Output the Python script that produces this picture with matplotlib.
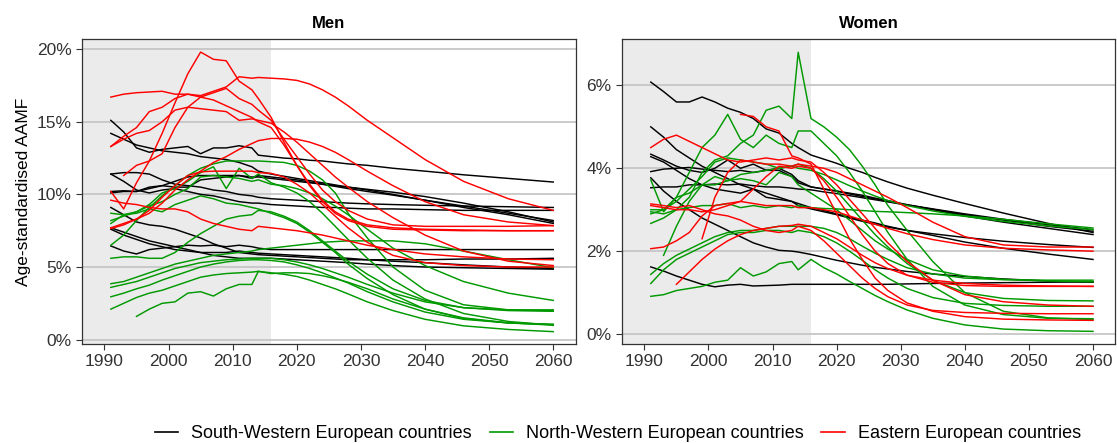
import matplotlib
matplotlib.use("Agg")
import matplotlib.pyplot as plt
import numpy as np
from matplotlib.lines import Line2D

plt.rcParams["font.family"] = ["Liberation Sans", "DejaVu Sans"]

# observed years (grey band) followed by projection years
OBS_YEARS = [1991, 1993, 1995, 1997, 1999, 2001, 2003, 2005, 2007, 2009, 2011, 2013, 2014, 2016]
PROJ_YEARS = [2018, 2020, 2022, 2024, 2026, 2028, 2031, 2035, 2040, 2046, 2053, 2060]
YEARS = OBS_YEARS + PROJ_YEARS
LAST_OBSERVED = 2016

GROUPS = ["South-Western European countries", "North-Western European countries",
          "Eastern European countries"]
COLORS = ["#000000", "#009900", "#FF0000"]

# ---- Men, AAMF in % ----
MEN_SW = [
    [15.1, 14.3, 13.2, 12.9, 13.1, 13.2, 13.3, 12.8, 13.2, 13.2, 13.35, 13.2, 12.7, 12.6]
    + [12.5, 12.45, 12.35, 12.3, 12.2, 12.1, 12.0, 11.8, 11.6, 11.35, 11.1, 10.85],
    [14.2, 13.8, 13.4, 13.2, 13.0, 12.9, 12.8, 12.6, 12.5, 12.4, 12.2, 11.9, 11.6, 11.4]
    + [11.25, 11.1, 10.95, 10.8, 10.65, 10.5, 10.3, 10.0, 9.6, 9.2, 8.7, 8.2],
    [10.1, 10.2, 10.2, 10.4, 10.6, 10.9, 11.2, 11.3, 11.3, 11.3, 11.3, 11.2, 11.2, 11.1]
    + [11.0, 10.9, 10.8, 10.7, 10.6, 10.5, 10.35, 10.15, 9.85, 9.4, 8.8, 8.1],
    [11.4, 11.5, 11.5, 11.4, 11.0, 10.7, 10.6, 10.5, 10.3, 10.2, 10.0, 9.9, 9.8, 9.7]
    + [9.65, 9.6, 9.55, 9.5, 9.45, 9.4, 9.35, 9.3, 9.25, 9.2, 9.15, 9.1],
    [11.4, 10.9, 10.3, 10.1, 10.3, 10.4, 10.2, 10.0, 9.9, 9.7, 9.5, 9.4, 9.4, 9.3]
    + [9.25, 9.2, 9.15, 9.1, 9.1, 9.05, 9.0, 9.0, 8.95, 8.9, 8.9, 8.9],
    [10.2, 10.25, 10.2, 10.5, 10.6, 10.5, 10.5, 11.0, 11.1, 11.2, 11.3, 11.1, 11.3, 11.2]
    + [11.1, 11.0, 10.85, 10.7, 10.55, 10.4, 10.2, 9.95, 9.6, 9.1, 8.6, 8.0],
    [9.1, 8.6, 8.1, 7.9, 7.8, 7.6, 7.3, 7.0, 6.6, 6.3, 6.0, 5.9, 5.85, 5.8]
    + [5.75, 5.7, 5.65, 5.6, 5.55, 5.5, 5.5, 5.5, 5.5, 5.55, 5.55, 5.6],
    [7.6, 7.2, 6.9, 6.6, 6.4, 6.2, 6.1, 6.0, 6.0, 6.0, 6.1, 6.0, 5.95, 5.9]
    + [5.85, 5.8, 5.75, 5.7, 5.65, 5.6, 5.5, 5.4, 5.3, 5.15, 5.0, 4.9],
    [6.45, 6.1, 5.9, 6.2, 6.3, 6.4, 6.5, 6.45, 6.5, 6.4, 6.5, 6.4, 6.3, 6.2]
    + [6.2, 6.2, 6.2, 6.2, 6.2, 6.2, 6.2, 6.2, 6.2, 6.2, 6.2, 6.2],
    [7.7, 7.4, 7.1, 6.8, 6.6, 6.4, 6.2, 6.0, 5.8, 5.7, 5.6, 5.6, 5.6, 5.6]
    + [5.55, 5.5, 5.45, 5.4, 5.35, 5.3, 5.2, 5.1, 5.0, 4.95, 4.9, 4.85],
]
MEN_NW = [
    [6.5, 7.2, 8.2, 9.1, 9.9, 10.6, 11.3, 11.8, 12.1, 12.3, 12.3, 12.3, 12.3, 12.25]
    + [12.2, 12.0, 11.6, 11.0, 10.1, 8.7, 7.0, 5.0, 3.4, 2.4, 2.05, 2.0],
    [8.7, 8.6, 8.8, 9.3, 10.1, 10.4, 10.9, 11.5, 11.9, 10.4, 11.8, 11.1, 11.4, 10.8]
    + [10.5, 10.1, 9.5, 8.7, 7.8, 6.9, 5.6, 4.1, 2.8, 1.8, 1.25, 1.0],
    [8.2, 8.5, 8.8, 9.2, 9.5, 10.0, 10.4, 11.2, 11.3, 11.2, 11.1, 10.9, 11.0, 10.7]
    + [10.6, 10.4, 10.1, 9.7, 9.2, 8.6, 7.6, 6.3, 5.1, 4.0, 3.2, 2.7],
    [8.0, 8.6, 8.7, 9.0, 8.8, 9.3, 9.6, 9.9, 9.7, 9.4, 9.3, 9.1, 9.0, 8.7]
    + [8.4, 8.0, 7.4, 6.7, 6.0, 5.2, 4.2, 3.1, 2.1, 1.45, 1.15, 1.05],
    [5.6, 5.7, 5.7, 5.6, 5.6, 6.0, 6.7, 7.3, 7.8, 8.3, 8.5, 8.6, 8.9, 8.8]
    + [8.5, 8.1, 7.5, 6.8, 6.1, 5.4, 4.5, 3.5, 2.7, 2.2, 2.05, 2.05],
    [3.85, 4.0, 4.3, 4.6, 4.9, 5.2, 5.4, 5.6, 5.8, 5.9, 6.0, 6.1, 6.2, 6.3]
    + [6.4, 6.5, 6.6, 6.7, 6.75, 6.8, 6.8, 6.8, 6.6, 6.1, 5.5, 4.95],
    [3.6, 3.8, 4.0, 4.3, 4.6, 4.9, 5.1, 5.3, 5.4, 5.5, 5.55, 5.6, 5.6, 5.6]
    + [5.5, 5.35, 5.15, 4.9, 4.6, 4.3, 3.8, 3.2, 2.6, 2.2, 2.0, 1.95],
    [2.95, 3.2, 3.5, 3.75, 4.1, 4.4, 4.7, 5.0, 5.2, 5.35, 5.45, 5.5, 5.5, 5.45]
    + [5.35, 5.15, 4.9, 4.6, 4.25, 3.9, 3.3, 2.6, 1.9, 1.4, 1.15, 1.05],
    [2.1, 2.5, 2.9, 3.2, 3.4, 3.7, 4.0, 4.3, 4.45, 4.55, 4.6, 4.65, 4.7, 4.6]
    + [4.5, 4.35, 4.1, 3.8, 3.5, 3.15, 2.6, 2.0, 1.4, 0.95, 0.7, 0.55],
    [None, None, 1.6, 2.1, 2.5, 2.6, 3.2, 3.3, 3.0, 3.5, 3.8, 3.8, 4.7, 4.55]
    + [4.6, 4.6, 4.55, 4.4, 4.2, 3.95, 3.5, 2.8, 2.1, 1.5, 1.15, 1.0],
]
MEN_EAST = [
    [16.7, 16.9, 17.0, 17.05, 17.1, 16.9, 16.9, 16.7, 16.5, 16.1, 15.7, 15.3, 15.0, 14.6]
    + [13.4, 12.0, 10.7, 9.6, 8.8, 8.3, 7.9, 7.7, 7.6, 7.55, 7.5, 7.5],
    [13.3, 14.0, 14.6, 15.7, 16.0, 16.6, 16.9, 16.8, 17.1, 17.4, 18.1, 18.0, 18.05, 18.0]
    + [17.95, 17.85, 17.6, 17.2, 16.7, 16.1, 15.1, 13.9, 12.4, 10.9, 9.7, 8.9],
    [10.2, 9.0, 10.8, 12.3, 14.2, 16.3, 18.3, 19.8, 19.3, 19.2, 17.8, 17.2, 16.6, 15.3]
    + [13.6, 12.0, 10.6, 9.5, 8.7, 8.2, 7.8, 7.6, 7.55, 7.5, 7.5, 7.5],
    [None, 11.3, 12.0, 12.3, 12.8, 14.6, 16.0, 16.7, 17.0, 17.3, 16.6, 16.2, 15.8, 15.1]
    + [13.8, 12.6, 11.4, 10.3, 9.5, 8.9, 8.3, 7.9, 7.8, 7.8, 7.8, 7.85],
    [13.3, 13.8, 14.2, 14.4, 15.0, 15.8, 16.0, 15.9, 15.8, 15.7, 15.1, 15.2, 15.1, 14.9]
    + [14.3, 13.6, 12.8, 12.0, 11.2, 10.5, 9.5, 8.4, 7.2, 6.1, 5.4, 5.1],
    [9.6, 9.4, 9.3, 9.1, 9.0, 9.0, 8.8, 8.3, 8.0, 7.8, 7.6, 7.5, 7.8, 7.7]
    + [7.6, 7.5, 7.35, 7.2, 7.0, 6.8, 6.5, 6.2, 5.9, 5.7, 5.55, 5.5],
    [7.65, 7.9, 8.3, 8.7, 9.4, 10.3, 11.0, 11.6, 12.2, 12.6, 13.1, 13.5, 13.7, 13.85]
    + [13.85, 13.8, 13.6, 13.3, 12.9, 12.4, 11.6, 10.6, 9.5, 8.6, 8.1, 7.85],
    [7.7, 8.0, 8.3, 8.9, 9.8, 10.6, 11.3, 11.55, 11.6, 11.6, 11.6, 11.6, 11.5, 11.45]
    + [11.2, 10.7, 10.1, 9.3, 8.5, 7.7, 6.7, 5.8, 5.3, 5.1, 5.0, 5.0],
]

# ---- Women, AAMF in % ----
WOMEN_SW = [
    [6.08, 5.85, 5.6, 5.6, 5.72, 5.6, 5.45, 5.35, 5.2, 4.95, 4.85, 4.6, 4.5, 4.32]
    + [4.22, 4.12, 4.0, 3.9, 3.78, 3.67, 3.52, 3.35, 3.15, 2.92, 2.67, 2.45],
    [5.0, 4.75, 4.45, 4.25, 4.05, 3.9, 3.75, 3.6, 3.5, 3.4, 3.3, 3.2, 3.15, 3.05]
    + [2.98, 2.9, 2.82, 2.75, 2.68, 2.6, 2.5, 2.38, 2.22, 2.07, 1.93, 1.8],
    [4.34, 4.2, 4.05, 3.95, 3.9, 4.0, 4.2, 4.0, 4.1, 3.95, 3.95, 3.8, 3.65, 3.55]
    + [3.5, 3.45, 3.4, 3.35, 3.28, 3.22, 3.12, 3.0, 2.85, 2.7, 2.55, 2.4],
    [3.92, 3.98, 4.0, 4.02, 3.98, 3.95, 3.92, 3.95, 3.9, 3.95, 4.0, 3.85, 3.7, 3.55]
    + [3.5, 3.45, 3.38, 3.32, 3.26, 3.2, 3.12, 3.02, 2.9, 2.77, 2.64, 2.52],
    [3.77, 3.45, 3.2, 3.0, 2.8, 2.65, 2.5, 2.35, 2.2, 2.1, 2.02, 2.0, 1.98, 1.92]
    + [1.85, 1.78, 1.72, 1.66, 1.61, 1.57, 1.51, 1.45, 1.39, 1.33, 1.28, 1.25],
    [3.53, 3.55, 3.55, 3.6, 3.6, 3.62, 3.6, 3.62, 3.58, 3.55, 3.55, 3.52, 3.5, 3.48]
    + [3.43, 3.39, 3.34, 3.29, 3.24, 3.19, 3.11, 3.01, 2.88, 2.75, 2.6, 2.48],
    [4.28, 4.15, 3.95, 3.75, 3.6, 3.5, 3.45, 3.4, 3.5, 3.3, 3.25, 3.2, 3.1, 3.02]
    + [2.95, 2.88, 2.8, 2.72, 2.65, 2.58, 2.5, 2.42, 2.33, 2.24, 2.16, 2.09],
    [1.62, 1.52, 1.4, 1.3, 1.2, 1.14, 1.18, 1.2, 1.16, 1.17, 1.18, 1.2, 1.2, 1.2]
    + [1.2, 1.2, 1.2, 1.2, 1.2, 1.2, 1.21, 1.22, 1.23, 1.24, 1.25, 1.26],
]
WOMEN_NW = [
    [2.67, 2.8, 3.0, 3.3, 3.9, 4.2, 4.3, 4.6, 4.8, 5.4, 5.5, 5.2, 6.8, 5.2]
    + [5.0, 4.75, 4.45, 4.05, 3.6, 3.1, 2.5, 1.75, 1.0, 0.55, 0.39, 0.35],
    [3.72, 2.95, 3.3, 3.9, 4.5, 4.8, 5.3, 4.7, 4.5, 4.8, 4.6, 4.5, 4.9, 4.9]
    + [4.6, 4.3, 3.9, 3.45, 2.95, 2.45, 1.8, 1.15, 0.7, 0.47, 0.38, 0.37],
    [2.95, 2.9, 3.0, 3.05, 3.1, 3.1, 3.15, 3.05, 3.1, 3.05, 3.1, 3.05, 3.1, 3.05]
    + [3.03, 3.02, 3.0, 2.98, 2.96, 2.95, 2.93, 2.9, 2.85, 2.77, 2.66, 2.56],
    [3.0, 3.0, 3.2, 3.5, 3.8, 4.15, 4.25, 4.2, 4.15, 4.1, 4.0, 4.05, 4.0, 3.95]
    + [3.85, 3.72, 3.58, 3.45, 3.33, 3.22, 3.1, 2.97, 2.84, 2.72, 2.61, 2.52],
    [None, 1.9, 2.6, 3.2, 3.6, 3.6, 3.7, 3.85, 3.9, 3.95, 4.0, 4.05, 4.1, 4.0]
    + [3.75, 3.45, 3.1, 2.75, 2.4, 2.1, 1.7, 1.3, 1.0, 0.86, 0.81, 0.8],
    [1.44, 1.7, 1.9, 2.05, 2.2, 2.35, 2.45, 2.5, 2.5, 2.55, 2.6, 2.6, 2.6, 2.6]
    + [2.55, 2.45, 2.3, 2.12, 1.95, 1.8, 1.6, 1.45, 1.35, 1.31, 1.3, 1.3],
    [1.22, 1.55, 1.8, 1.95, 2.1, 2.25, 2.4, 2.45, 2.45, 2.5, 2.5, 2.45, 2.5, 2.45]
    + [2.35, 2.2, 2.0, 1.78, 1.55, 1.35, 1.1, 0.88, 0.74, 0.69, 0.67, 0.67],
    [0.91, 0.95, 1.05, 1.1, 1.15, 1.25, 1.3, 1.6, 1.4, 1.5, 1.7, 1.75, 1.55, 1.8]
    + [1.6, 1.45, 1.27, 1.1, 0.93, 0.78, 0.58, 0.38, 0.22, 0.12, 0.08, 0.065],
    [2.9, 3.0, 3.3, 3.4, 3.6, 3.8, 3.7, 3.75, 3.7, 3.6, 3.9, 3.8, 3.6, 3.4]
    + [3.2, 3.0, 2.75, 2.5, 2.25, 2.05, 1.8, 1.55, 1.4, 1.32, 1.28, 1.26],
]
WOMEN_EAST = [
    [4.5, 4.7, 4.8, 4.65, 4.5, 4.35, 4.2, 4.15, 4.2, 4.25, 4.2, 4.25, 4.2, 4.15]
    + [3.9, 3.6, 3.25, 2.9, 2.55, 2.2, 1.75, 1.3, 0.95, 0.78, 0.7, 0.67],
    [None, None, None, None, None, None, None, 5.3, 5.25, 5.0, 4.9, 4.3, 4.25, 4.1]
    + [3.5, 2.9, 2.3, 1.8, 1.35, 1.05, 0.75, 0.55, 0.42, 0.36, 0.34, 0.33],
    [None, None, None, None, 2.3, 3.3, 3.9, 4.2, 4.15, 4.1, 4.1, 4.05, 4.1, 4.05]
    + [4.0, 3.9, 3.75, 3.6, 3.45, 3.3, 3.05, 2.7, 2.35, 2.15, 2.1, 2.1],
    [3.14, 3.1, 3.05, 3.1, 3.0, 2.9, 2.85, 2.75, 2.6, 2.5, 2.45, 2.5, 2.6, 2.5]
    + [2.25, 1.95, 1.65, 1.35, 1.1, 0.9, 0.7, 0.57, 0.52, 0.5, 0.49, 0.49],
    [2.06, 2.1, 2.25, 2.45, 2.85, 3.1, 3.15, 3.2, 3.15, 3.1, 3.1, 3.1, 3.05, 3.05]
    + [3.0, 2.95, 2.85, 2.75, 2.65, 2.55, 2.42, 2.28, 2.15, 2.07, 2.03, 2.0],
    [None, None, 1.2, 1.5, 1.8, 2.05, 2.25, 2.4, 2.5, 2.55, 2.6, 2.62, 2.65, 2.6]
    + [2.45, 2.3, 2.1, 1.9, 1.72, 1.58, 1.42, 1.3, 1.22, 1.18, 1.16, 1.15],
    [3.1, 3.05, 3.0, 3.0, 2.95, 3.0, 3.1, 3.2, 3.5, 3.8, 4.05, 4.0, 4.05, 4.0]
    + [3.7, 3.3, 2.85, 2.4, 2.0, 1.7, 1.42, 1.25, 1.17, 1.15, 1.15, 1.15],
]

MEN_TICKS = [0, 5, 10, 15, 20]
WOMEN_TICKS = [0, 2, 4, 6]
X_TICKS = [1990, 2000, 2010, 2020, 2030, 2040, 2050, 2060]
XLIM = (1986.5, 2063.5)


def draw_panel(ax, series_groups, title, ylim, yticks):
    ax.axvspan(XLIM[0], LAST_OBSERVED, color="#EBEBEB", lw=0, zorder=0)
    for t in yticks:
        ax.axhline(t, color="#C6C6C6", lw=1.3, zorder=1)
    for color, group in zip(COLORS, series_groups):
        for vals in group:
            ax.plot(YEARS, np.array(vals, dtype=float), color=color, lw=1.05, zorder=2)
    ax.set_xlim(*XLIM)
    ax.set_ylim(*ylim)
    ax.set_xticks(X_TICKS)
    ax.set_yticks(yticks)
    ax.set_yticklabels([f"{t}%" for t in yticks])
    ax.tick_params(labelsize=12.5, colors="#333333", length=4, width=0.8)
    for s in ax.spines.values():
        s.set_color("#333333")
        s.set_linewidth(0.9)
    ax.set_title(title, fontsize=12, fontweight="bold", pad=8)


fig = plt.figure(figsize=(11.17, 4.43), dpi=100)
ax_men = fig.add_axes([0.0734, 0.2235, 0.442, 0.6885])
ax_women = fig.add_axes([0.5568, 0.2235, 0.4418, 0.6885])

draw_panel(ax_men, [MEN_SW, MEN_NW, MEN_EAST], "Men", (-0.3, 20.7), MEN_TICKS)
draw_panel(ax_women, [WOMEN_SW, WOMEN_NW, WOMEN_EAST], "Women", (-0.24, 7.12), WOMEN_TICKS)
ax_men.set_ylabel("Age-standardised AAMF", fontsize=12.5, labelpad=4)

handles = [Line2D([0], [0], color=c, lw=1.2) for c in COLORS]
fig.legend(handles, GROUPS, loc="lower center", bbox_to_anchor=(0.553, -0.035), ncol=3,
           frameon=False, fontsize=13, handlelength=1.3, handletextpad=0.7,
           columnspacing=1.0)

fig.savefig("out.png", dpi=100)
